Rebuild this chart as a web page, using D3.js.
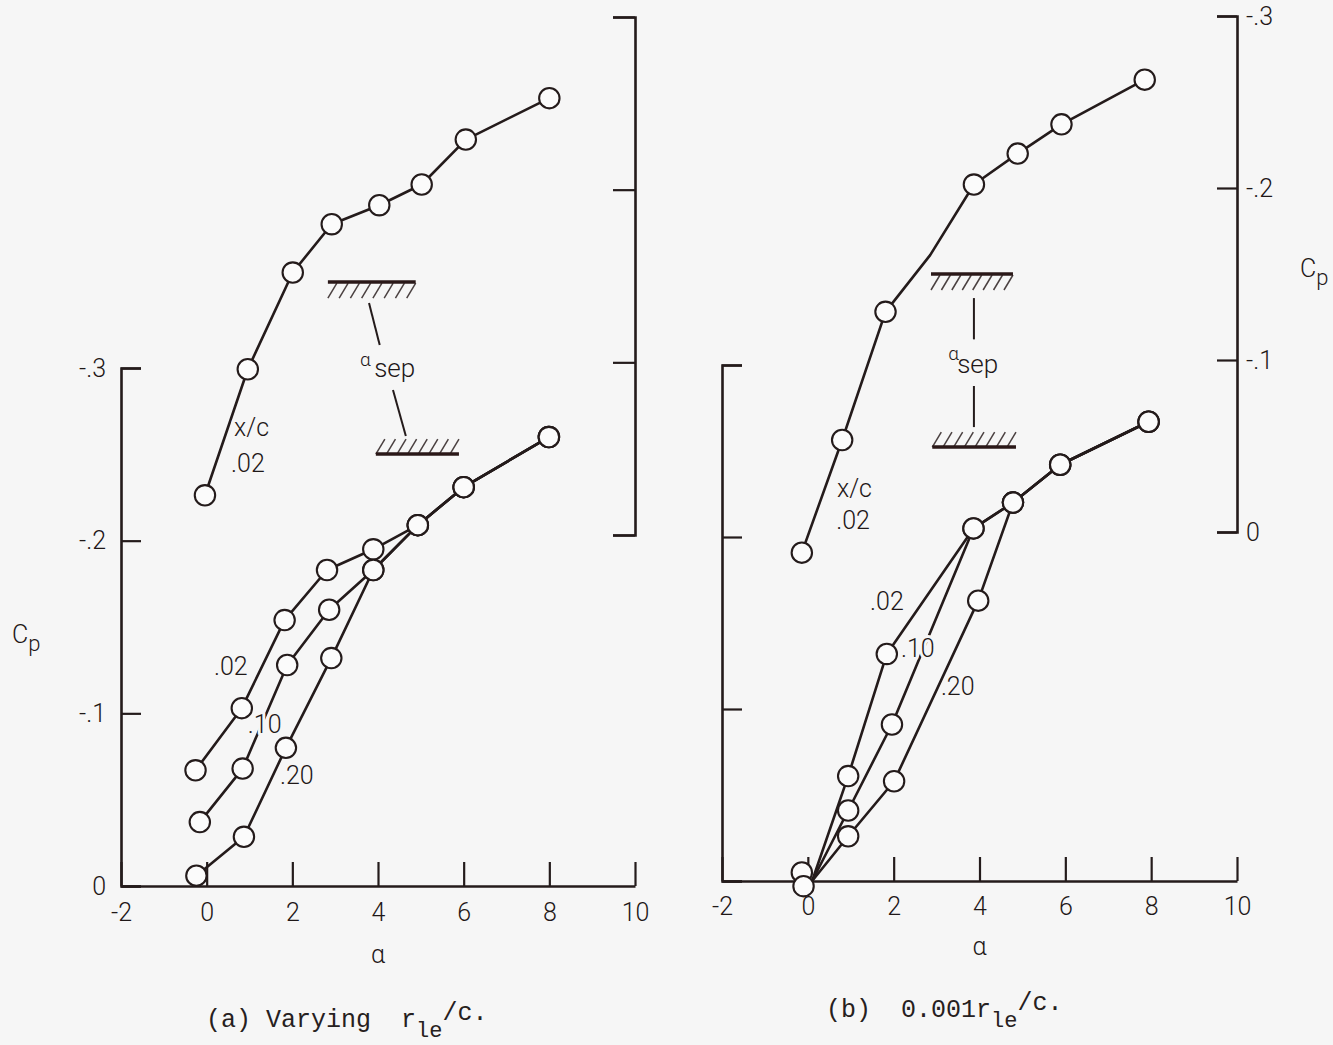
<!DOCTYPE html>
<html>
<head>
<meta charset="utf-8">
<script src="https://cdn.jsdelivr.net/npm/d3@7"></script>
<style>
  html, body { margin: 0; padding: 0; background: #f6f6f6; }
  svg { display: block; }
  .lbl { font-family: Roboto, "Liberation Sans", sans-serif; font-weight: 300; fill: #1f1818; }
  .mono { font-family: "Liberation Mono", "DejaVu Sans Mono", monospace; fill: #262020; white-space: pre; }
</style>
</head>
<body>
<svg id="chart" width="1333" height="1045"></svg>
<script>
// ---------------- DATA ----------------
const alphaTicks = [-2, 0, 2, 4, 6, 8, 10];
const alphaTickLabels = ["-2", "0", "2", "4", "6", "8", "10"];
const cpTicks = [0, -0.1, -0.2, -0.3];
const cpTickLabels = ["0", "-.1", "-.2", "-.3"];

// Panel (a) Varying r_le/c : upper curve (right upper scale), x/c = .02
const aUpperAlpha = [-0.04, 0.96, 2.01, 2.92, 4.03, 5.02, 6.05, 8.0];
const aUpperCp    = [-0.023, -0.096, -0.152, -0.180, -0.191, -0.203, -0.229, -0.253];
// Panel (a) lower curves (left scale)
const aLow02Alpha = [-0.26, 0.82, 1.82, 2.81, 3.89, 4.93, 6.0, 7.99];
const aLow02Cp    = [-0.067, -0.103, -0.154, -0.183, -0.195, -0.209, -0.231, -0.260];
const aLow10Alpha = [-0.16, 0.84, 1.88, 2.86, 3.89, 4.93, 6.0, 7.99];
const aLow10Cp    = [-0.037, -0.068, -0.128, -0.160, -0.183, -0.209, -0.231, -0.260];
const aLow20Alpha = [-0.24, 0.87, 1.85, 2.91, 3.89, 4.93, 6.0, 7.99];
const aLow20Cp    = [-0.006, -0.0285, -0.080, -0.132, -0.183, -0.209, -0.231, -0.260];

// Panel (b) 0.001 r_le/c : upper curve (right scale), x/c = .02
const bUpperAlpha  = [-0.14, 0.8, 1.81, 2.85, 3.87, 4.89, 5.91, 7.85];
const bUpperCp     = [0.012, -0.0535, -0.128, -0.161, -0.202, -0.220, -0.237, -0.263];
const bUpperMarker = [1, 1, 1, 0, 1, 1, 1, 1];
// Panel (b) lower curves (left scale); all start at the origin
const bLow02Alpha = [0.1, 0.94, 1.84, 3.86, 4.78, 5.88, 7.94];
const bLow02Cp    = [0, -0.061, -0.132, -0.205, -0.220, -0.242, -0.267];
const bLow10Alpha = [0.1, 0.94, 1.96, 3.86, 4.78, 5.88, 7.94];
const bLow10Cp    = [0, -0.041, -0.091, -0.205, -0.220, -0.242, -0.267];
const bLow20Alpha = [0.1, 0.94, 2.01, 3.97, 4.78, 5.88, 7.94];
const bLow20Cp    = [0, -0.026, -0.058, -0.163, -0.220, -0.242, -0.267];
const bLowMarker  = [0, 1, 1, 1, 1, 1, 1];
const bZeroAlpha  = [-0.14, -0.10];
const bZeroCp     = [-0.005, 0.003];

// series labels [text, alpha, cp]
const aUpperLabels = [["x/c", 0.64, -0.0573], [".02", 0.57, -0.0365]];
const aLowLabels   = [[".02", 0.17, -0.1222], [".10", 0.96, -0.0886], [".20", 1.71, -0.059]];
const bUpperLabels = [["x/c", 0.68, -0.0203], [".02", 0.66, -0.0017]];
const bLowLabels   = [[".02", 1.45, -0.1576], [".10", 2.17, -0.130], [".20", 3.1, -0.108]];

// ---------------- LAYOUT ----------------
const INK = "#241b1b";
const BG = "#f6f6f6";
const svg = d3.select("#chart");

const xa  = d3.scaleLinear().domain([-2, 10]).range([121, 635]);
const ya  = d3.scaleLinear().domain([0, -0.3]).range([886, 368]);
const yaU = d3.scaleLinear().domain([0, -0.3]).range([535, 17]);
const xb  = d3.scaleLinear().domain([-2, 10]).range([722, 1237]);
const yb  = d3.scaleLinear().domain([0, -0.3]).range([881, 365]);
const ybU = d3.scaleLinear().domain([0, -0.3]).range([532, 16]);

const axesL  = svg.append("g");
const annoL  = svg.append("g");
const lineL  = svg.append("g");
const labelL = svg.append("g");
const dotL   = svg.append("g");

function styleAxis(g) {
  g.attr("font-size", null).attr("font-family", null);
  g.select(".domain").attr("stroke", INK).attr("stroke-width", 2.6).attr("fill", "none");
  g.selectAll(".tick line").attr("stroke", INK).attr("stroke-width", 2.2);
  g.selectAll(".tick text").attr("class", "lbl").style("font-size", "25px");
}

// ---- Axes panel (a)
axesL.append("g").attr("transform", `translate(0,${ya(0)})`)
  .call(d3.axisBottom(xa).tickValues(alphaTicks).tickFormat((d, i) => alphaTickLabels[i])
        .tickSize(-24).tickSizeOuter(0).tickPadding(17))
  .call(styleAxis);
axesL.append("g").attr("transform", `translate(${xa(-2)},0)`)
  .call(d3.axisLeft(ya).tickValues(cpTicks).tickFormat((d, i) => cpTickLabels[i])
        .tickSize(-20).tickSizeOuter(-20).tickPadding(15))
  .call(styleAxis);
axesL.append("g").attr("transform", `translate(${xa(10)},0)`)
  .call(d3.axisRight(yaU).tickValues(cpTicks).tickFormat("")
        .tickSize(-22).tickSizeOuter(-22))
  .call(styleAxis);

// ---- Axes panel (b)
axesL.append("g").attr("transform", `translate(0,${yb(0)})`)
  .call(d3.axisBottom(xb).tickValues(alphaTicks).tickFormat((d, i) => alphaTickLabels[i])
        .tickSize(-24).tickSizeOuter(0).tickPadding(16))
  .call(styleAxis);
axesL.append("g").attr("transform", `translate(${xb(-2)},0)`)
  .call(d3.axisLeft(yb).tickValues(cpTicks).tickFormat("")
        .tickSize(-20).tickSizeOuter(-20))
  .call(styleAxis);
axesL.append("g").attr("transform", `translate(${xb(10)},0)`)
  .call(d3.axisRight(ybU).tickValues(cpTicks).tickFormat((d, i) => cpTickLabels[i])
        .tickSize(-20).tickSizeOuter(-20).tickPadding(9))
  .call(styleAxis);

// ---- Axis titles
function cpTitle(x, y) {
  const t = axesL.append("text").attr("class", "lbl").attr("x", x).attr("y", y).style("font-size", "25px");
  t.append("tspan").text("C");
  t.append("tspan").attr("dy", 8).style("font-size", "22px").text("p");
}
cpTitle(12, 643);
cpTitle(1300, 277);
axesL.append("text").attr("class", "lbl").attr("x", xa(4)).attr("y", 963)
  .attr("text-anchor", "middle").style("font-size", "25px").text("α");
axesL.append("text").attr("class", "lbl").attr("x", xb(4)).attr("y", 955)
  .attr("text-anchor", "middle").style("font-size", "25px").text("α");

// ---- Captions
function caption(x, y, lead, sub, tail) {
  const t = axesL.append("text").attr("class", "mono").attr("x", x).attr("y", y)
    .attr("xml:space", "preserve").style("font-size", "25px");
  t.append("tspan").text(lead);
  t.append("tspan").attr("dy", 10).style("font-size", "22px").text(sub);
  t.append("tspan").attr("dy", -17).style("font-size", "25px").text(tail);
}
caption(206, 1027, "(a) Varying  r", "le", "/c.");
caption(826, 1017, "(b)  0.001r", "le", "/c.");

// ---- alpha_sep annotations
function hatchMark(xs, ys, a1, a2, cp, side) {
  const px1 = xs(a1), px2 = xs(a2), py = ys(cp);
  const n = 8, w = 9, h = 15;
  for (let i = 0; i < n; i++) {
    const bx = px1 + i * (px2 - px1 - w) / (n - 1);
    const y0 = side === "below" ? py + h + 1 : py;
    const y1 = side === "below" ? py + 1 : py - h;
    annoL.append("line").attr("x1", bx).attr("y1", y0).attr("x2", bx + w).attr("y2", y1)
      .attr("stroke", "#4a4040").attr("stroke-width", 1.5);
  }
  annoL.append("line").attr("x1", px1).attr("x2", px2).attr("y1", py).attr("y2", py)
    .attr("stroke", "#2a1818").attr("stroke-width", 3.6);
}
function seg(xs, ys, a1, c1, a2, c2) {
  annoL.append("line").attr("x1", xs(a1)).attr("y1", ys(c1)).attr("x2", xs(a2)).attr("y2", ys(c2))
    .attr("stroke", INK).attr("stroke-width", 2);
}
function sepLabel(xs, ys, aA, cA, aS, cS) {
  annoL.append("text").attr("class", "lbl").attr("x", xs(aA)).attr("y", ys(cA))
    .style("font-size", "19px").text("α");
  annoL.append("text").attr("class", "lbl").attr("x", xs(aS)).attr("y", ys(cS))
    .style("font-size", "26px").text("sep");
}
// panel (a)
hatchMark(xa, yaU, 2.83, 4.88, -0.1465, "below");
seg(xa, yaU, 3.79, -0.1343, 4.04, -0.110);
sepLabel(xa, yaU, 3.58, -0.098, 3.91, -0.0915);
seg(xa, yaU, 4.35, -0.084, 4.65, -0.0573);
hatchMark(xa, yaU, 3.95, 5.89, -0.0469, "above");
// panel (b)
hatchMark(xb, ybU, 2.87, 4.78, -0.150, "below");
seg(xb, ybU, 3.87, -0.136, 3.87, -0.112);
sepLabel(xb, ybU, 3.27, -0.100, 3.48, -0.0925);
seg(xb, ybU, 3.87, -0.0849, 3.87, -0.061);
hatchMark(xb, ybU, 2.9, 4.85, -0.0494, "above");

// ---- Series
const R = 10.2;
function dots(pts) {
  dotL.append("g").selectAll("circle").data(pts).join("circle")
    .attr("cx", d => d.x).attr("cy", d => d.y).attr("r", R)
    .attr("fill", "#fbfbfb").attr("stroke", INK).attr("stroke-width", 2.1);
}
function series(xs, ys, alphas, cps, markers) {
  const pts = alphas.map((a, i) => ({ x: xs(a), y: ys(cps[i]), m: markers ? markers[i] : 1 }));
  lineL.append("path").attr("d", d3.line().x(d => d.x).y(d => d.y)(pts))
    .attr("fill", "none").attr("stroke", INK).attr("stroke-width", 2.6).attr("stroke-linejoin", "round");
  dots(pts.filter(d => d.m));
}
series(xa, yaU, aUpperAlpha, aUpperCp);
series(xa, ya, aLow02Alpha, aLow02Cp);
series(xa, ya, aLow10Alpha, aLow10Cp);
series(xa, ya, aLow20Alpha, aLow20Cp);

series(xb, ybU, bUpperAlpha, bUpperCp, bUpperMarker);
series(xb, yb, bLow02Alpha, bLow02Cp, bLowMarker);
series(xb, yb, bLow10Alpha, bLow10Cp, bLowMarker);
series(xb, yb, bLow20Alpha, bLow20Cp, bLowMarker);
dots(bZeroAlpha.map((a, i) => ({ x: xb(a), y: yb(bZeroCp[i]) })));

// ---- Series labels (with background halo that interrupts lines)
function labels(xs, ys, list) {
  labelL.append("g").selectAll("text").data(list).join("text")
    .attr("class", "lbl").attr("x", d => xs(d[1])).attr("y", d => ys(d[2]))
    .style("font-size", "25px")
    .attr("stroke", BG).attr("stroke-width", 6).attr("stroke-linejoin", "round")
    .style("paint-order", "stroke")
    .text(d => d[0]);
}
labels(xa, yaU, aUpperLabels);
labels(xa, ya, aLowLabels);
labels(xb, ybU, bUpperLabels);
labels(xb, yb, bLowLabels);
</script>
</body>
</html>
